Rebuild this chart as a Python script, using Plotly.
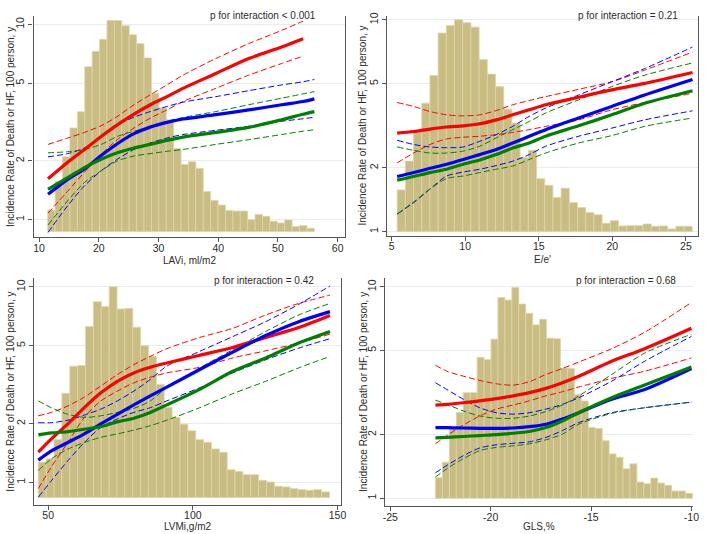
import plotly.graph_objects as go

# ======================= DATA =======================
# ---- Panel A : LAVi ----
lavi_bin_start = 11.45
lavi_bin_width = 1.24
lavi_hist = [0.65, 1.51, 2.26, 3.13, 3.62, 4.98, 5.45, 5.81, 6.38, 6.38, 6.22, 5.95,
             5.68, 5.25, 4.18, 3.74, 3.38, 2.51, 2.03, 2.11, 1.91, 1.21, 0.94, 0.80,
             0.64, 0.62, 0.62, 0.36, 0.52, 0.46, 0.31, 0.26, 0.35, 0.15, 0.18, 0.10]
lavi_x = [11.5, 14.8, 17.6, 20.4, 23.1, 25.9, 28.6, 31.4, 34.1, 39.6, 45.1, 50.6, 54.2, 56.1]
lavi_red = [1.62, 1.97, 2.29, 2.67, 3.06, 3.47, 3.88, 4.27, 4.71, 5.61, 6.69, 7.67, 8.46, None]
lavi_red_hi = [2.43, 2.62, 2.80, 3.03, 3.38, 3.88, 4.36, 4.90, 5.50, 6.69, 7.98, 9.32, 10.40, None]
lavi_red_lo = [1.08, 1.40, 1.75, 2.16, 2.57, 2.95, 3.31, 3.65, 4.03, 4.71, 5.50, 6.31, 6.88, None]
lavi_blue = [1.35, 1.61, 1.82, 2.13, 2.45, 2.76, 2.98, 3.15, 3.28, 3.45, 3.65, 3.88, 4.03, 4.16]
lavi_blue_hi = [2.10, 2.18, 2.33, 2.67, 3.06, 3.35, 3.58, 3.80, 4.00, 4.27, 4.58, 4.90, 5.09, 5.23]
lavi_blue_lo = [0.86, 1.18, 1.49, 1.78, 2.04, 2.29, 2.47, 2.62, 2.73, 2.87, 3.01, 3.19, 3.29, 3.35]
lavi_green = [1.43, 1.64, 1.85, 2.04, 2.20, 2.33, 2.43, 2.55, 2.65, 2.80, 2.97, 3.25, 3.47, 3.58]
lavi_green_hi = [2.20, 2.23, 2.29, 2.43, 2.67, 2.84, 2.98, 3.19, 3.34, 3.58, 3.88, 4.19, 4.41, 4.53]
lavi_green_lo = [0.94, 1.25, 1.55, 1.78, 2.00, 2.12, 2.18, 2.24, 2.29, 2.43, 2.57, 2.73, 2.84, 2.89]
lavi_xticks = [10, 20, 30, 40, 50, 60]

# ---- Panel B : E/e' ----
ee_bin_start = 5.38
ee_bin_width = 0.557
ee_hist = [1.26, 2.13, 3.00, 3.88, 4.72, 6.00, 6.23, 6.40, 6.31, 6.18, 5.20, 4.76,
           4.38, 3.70, 3.28, 2.23, 2.46, 1.60, 1.40, 1.03, 1.31, 0.88, 0.73, 0.58,
           0.51, 0.25, 0.33, 0.17, 0.18, 0.18, 0.23, 0.16, 0.17, 0.08, 0.16, 0.16]
ee_x = [5.38, 6.50, 7.62, 8.74, 9.87, 10.99, 12.11, 13.23, 14.35, 15.47, 17.71, 19.96, 22.20, 25.45]
ee_red = [2.92, 2.97, 3.05, 3.12, 3.16, 3.23, 3.37, 3.56, 3.76, 3.97, 4.31, 4.67, 5.01, 5.64]
ee_red_hi = [4.07, 3.90, 3.69, 3.56, 3.52, 3.56, 3.73, 3.97, 4.16, 4.34, 4.70, 5.10, 5.79, 7.05]
ee_red_lo = [2.11, 2.35, 2.58, 2.74, 2.79, 2.82, 2.87, 2.94, 3.03, 3.14, 3.37, 3.76, 4.07, 4.50]
ee_blue = [1.82, 1.90, 1.99, 2.08, 2.19, 2.31, 2.44, 2.62, 2.82, 3.03, 3.44, 3.90, 4.42, 5.23]
ee_blue_hi = [2.70, 2.58, 2.51, 2.49, 2.51, 2.67, 2.87, 3.14, 3.50, 3.83, 4.42, 5.10, 5.89, 7.44]
ee_blue_lo = [1.21, 1.37, 1.59, 1.83, 1.91, 1.97, 2.05, 2.15, 2.31, 2.53, 2.82, 3.08, 3.37, 3.72]
ee_green = [1.75, 1.82, 1.90, 1.97, 2.08, 2.18, 2.31, 2.48, 2.62, 2.82, 3.16, 3.56, 4.04, 4.63]
ee_green_hi = [2.51, 2.42, 2.35, 2.35, 2.40, 2.53, 2.77, 3.03, 3.31, 3.63, 4.19, 4.84, 5.48, 6.26]
ee_green_lo = [1.21, 1.38, 1.59, 1.78, 1.83, 1.90, 1.97, 2.04, 2.19, 2.35, 2.62, 2.84, 3.14, 3.44]
ee_xticks = [5, 10, 15, 20, 25]

# ---- Panel C : LVMi ----
lvmi_bin_start = 46.6
lvmi_bin_width = 2.72
lvmi_hist = [1.07, 1.17, 1.75, 3.15, 3.97, 3.99, 5.17, 5.92, 5.77, 6.37, 5.70, 5.72,
             5.15, 4.59, 4.27, 3.42, 2.72, 2.42, 2.22, 2.02, 1.75, 1.67, 1.47, 1.37,
             0.84, 0.79, 0.69, 0.69, 0.52, 0.47, 0.34, 0.32, 0.27, 0.24, 0.22, 0.24, 0.17]
lvmi_x = [46.6, 51.1, 56.8, 62.5, 68.2, 73.9, 79.6, 85.3, 91.0, 102.4, 113.8, 125.2, 136.6, 147.4]
lvmi_red = [1.43, 1.67, 1.99, 2.41, 2.87, 3.29, 3.63, 3.88, 4.08, 4.47, 4.90, 5.51, 6.19, 7.13]
lvmi_red_hi = [2.19, 2.28, 2.46, 2.73, 3.11, 3.56, 4.00, 4.41, 4.83, 5.51, 6.14, 7.18, 8.23, 9.07]
lvmi_red_lo = [0.93, 1.20, 1.60, 2.15, 2.61, 2.93, 3.23, 3.45, 3.63, 3.88, 4.33, 4.71, 5.16, 5.73]
lvmi_blue = [1.30, 1.45, 1.60, 1.77, 1.99, 2.23, 2.49, 2.77, 3.07, 3.78, 4.64, 5.64, 6.64, 7.47]
lvmi_blue_hi = [2.02, 2.02, 2.08, 2.21, 2.37, 2.61, 2.93, 3.36, 3.93, 4.68, 5.57, 6.64, 8.14, 10.1]
lvmi_blue_lo = [0.84, 1.02, 1.29, 1.60, 1.91, 2.11, 2.28, 2.41, 2.61, 3.05, 3.63, 4.24, 4.86, 5.43]
lvmi_green = [1.75, 1.79, 1.82, 1.87, 1.93, 2.04, 2.13, 2.28, 2.49, 2.99, 3.70, 4.33, 5.16, 5.91]
lvmi_green_hi = [2.61, 2.41, 2.23, 2.15, 2.19, 2.28, 2.39, 2.61, 3.05, 3.85, 4.77, 5.91, 7.18, 8.23]
lvmi_green_lo = [1.15, 1.32, 1.48, 1.60, 1.70, 1.77, 1.85, 1.95, 2.08, 2.41, 2.84, 3.29, 3.85, 4.41]
lvmi_xticks = [50, 100, 150]

# ---- Panel D : GLS ----
gls_bin_start = -22.75
gls_bin_width = 0.346
gls_hist = [0.62, 1.09, 2.14, 2.59, 3.19, 3.19, 4.26, 4.19, 4.81, 6.07, 5.99, 6.37,
            5.87, 5.59, 5.24, 5.41, 4.84, 4.82, 3.94, 3.92, 3.14, 2.94, 2.14, 2.11,
            1.74, 1.34, 1.24, 0.89, 1.04, 0.49, 0.44, 0.61, 0.46, 0.39, 0.22, 0.22, 0.15]
gls_x = [-22.75, -22.18, -21.36, -20.54, -19.72, -18.89, -18.07, -17.25, -16.43, -15.61, -13.97, -12.33, -10.0]
gls_red = [2.76, 2.78, 2.83, 2.89, 2.96, 3.05, 3.16, 3.31, 3.52, 3.78, 4.45, 5.10, 6.37]
gls_red_hi = [4.26, 3.99, 3.78, 3.61, 3.48, 3.43, 3.56, 3.85, 4.11, 4.41, 5.10, 6.10, 8.44]
gls_red_lo = [1.81, 1.98, 2.22, 2.45, 2.64, 2.76, 2.89, 3.05, 3.19, 3.36, 3.69, 3.99, 4.61]
gls_blue = [2.16, 2.16, 2.15, 2.14, 2.14, 2.15, 2.18, 2.24, 2.37, 2.54, 2.94, 3.27, 4.11]
gls_blue_hi = [3.52, 3.27, 2.94, 2.68, 2.54, 2.50, 2.54, 2.64, 2.78, 2.99, 3.58, 4.45, 5.83]
gls_blue_lo = [1.32, 1.43, 1.59, 1.73, 1.79, 1.82, 1.85, 1.94, 2.09, 2.28, 2.54, 2.68, 2.85]
gls_green = [1.93, 1.94, 1.96, 1.98, 2.00, 2.03, 2.07, 2.16, 2.32, 2.54, 2.99, 3.43, 4.18]
gls_green_hi = [2.91, 2.78, 2.59, 2.45, 2.39, 2.39, 2.45, 2.57, 2.76, 3.05, 3.85, 4.86, 5.97]
gls_green_lo = [1.26, 1.38, 1.54, 1.68, 1.74, 1.77, 1.81, 1.89, 2.01, 2.24, 2.52, 2.68, 2.85]
gls_xticks = [-25, -20, -15, -10]

ytick_vals = [1, 2, 5, 10]
y_title = "Incidence Rate of Death or HF, 100 person, y"
x_titles = ["LAVi, ml/m2", "E/e'", "LVMi,g/m2", "GLS,%"]
p_texts = ["p for interaction < 0.001", "p for interaction = 0.21",
           "p for interaction = 0.42", "p for interaction = 0.68"]

# ======================= LAYOUT GEOMETRY (pixels) =======================
W, H = 709, 534
geom = [
    dict(l=32.0, r=346.7, t=12, b=235.0, xr=[9.09, 61.19], lr=[-0.090, 1.044], base=229.3, rline=True,
         ytx=8.5, xty=258, ptx=264, pty=11.5),
    dict(l=389.3, r=704.0, t=12, b=233.3, xr=[4.684, 25.826], lr=[-0.0188, 1.0188], base=229.3, rline=True,
         ytx=365, xty=257, ptx=633, pty=11.5),
    dict(l=32.5, r=343.3, t=276, b=504.3, xr=[45.15, 151.37], lr=[-0.1132, 1.0457], base=497.3, rline=True,
         ytx=8.5, xty=526, ptx=265, pty=279),
    dict(l=387.3, r=699.0, t=276, b=506.0, xr=[-25.266, -9.916], lr=[-0.0376, 1.0423], base=498.0, rline=False,
         ytx=365, xty=526, ptx=631, pty=279),
]
HIST_PX_PER_UNIT = 100.0 / 3.0

RED, BLUE, GREEN = "#ff0000", "#0000ff", "#008000"
BAR_FILL, BAR_EDGE = "#c9bd83", "#ddd5ab"
AXIS_COL = "#555555"
TXT_COL = "#2b2b2b"
FONT = "Liberation Sans, Arial, sans-serif"

panels = [
    dict(hist=lavi_hist, b0=lavi_bin_start, bw=lavi_bin_width, x=lavi_x, xticks=lavi_xticks,
         curves=[(lavi_red, lavi_red_hi, lavi_red_lo, RED), (lavi_blue, lavi_blue_hi, lavi_blue_lo, BLUE),
                 (lavi_green, lavi_green_hi, lavi_green_lo, GREEN)]),
    dict(hist=ee_hist, b0=ee_bin_start, bw=ee_bin_width, x=ee_x, xticks=ee_xticks,
         curves=[(ee_red, ee_red_hi, ee_red_lo, RED), (ee_blue, ee_blue_hi, ee_blue_lo, BLUE),
                 (ee_green, ee_green_hi, ee_green_lo, GREEN)]),
    dict(hist=lvmi_hist, b0=lvmi_bin_start, bw=lvmi_bin_width, x=lvmi_x, xticks=lvmi_xticks,
         curves=[(lvmi_red, lvmi_red_hi, lvmi_red_lo, RED), (lvmi_blue, lvmi_blue_hi, lvmi_blue_lo, BLUE),
                 (lvmi_green, lvmi_green_hi, lvmi_green_lo, GREEN)]),
    dict(hist=gls_hist, b0=gls_bin_start, bw=gls_bin_width, x=gls_x, xticks=gls_xticks,
         curves=[(gls_red, gls_red_hi, gls_red_lo, RED), (gls_blue, gls_blue_hi, gls_blue_lo, BLUE),
                 (gls_green, gls_green_hi, gls_green_lo, GREEN)]),
]

fig = go.Figure()
layout = dict(width=W, height=H, margin=dict(l=0, r=0, t=0, b=0), paper_bgcolor="white",
              plot_bgcolor="rgba(0,0,0,0)", showlegend=False, font=dict(family=FONT, color=TXT_COL, size=10))
annotations = []

for i, (p, g) in enumerate(zip(panels, geom)):
    xa = "x" if i == 0 else f"x{i+1}"
    yh = "y" if i == 0 else f"y{2*i+1}"
    yl = f"y{2*i+2}"
    xa_name = "xaxis" if i == 0 else f"xaxis{i+1}"
    yh_name = "yaxis" if i == 0 else f"yaxis{2*i+1}"
    yl_name = f"yaxis{2*i+2}"

    xdom = [g["l"] / W, g["r"] / W]
    ydom = [1 - g["b"] / H, 1 - g["t"] / H]

    # histogram (background, linear density axis)
    centers = [p["b0"] + p["bw"] * (k + 0.5) for k in range(len(p["hist"]))]
    fig.add_trace(go.Bar(x=centers, y=p["hist"], width=p["bw"], xaxis=xa, yaxis=yh,
                         marker=dict(color=BAR_FILL, line=dict(color=BAR_EDGE, width=0.8)),
                         hoverinfo="skip"))
    # curves on log axis
    for (mid, hi, lo, col) in p["curves"]:
        for band in (hi, lo):
            fig.add_trace(go.Scatter(x=p["x"], y=band, mode="lines", xaxis=xa, yaxis=yl,
                                     line=dict(color=col, width=1, dash="6px,3px", shape="spline",
                                               smoothing=0.8)))
    for (mid, hi, lo, col) in p["curves"]:
        fig.add_trace(go.Scatter(x=p["x"], y=mid, mode="lines", xaxis=xa, yaxis=yl,
                                 line=dict(color=col, width=3.2, shape="spline", smoothing=0.8)))

    lo_h = -(g["b"] - g["base"]) / HIST_PX_PER_UNIT
    hi_h = (g["base"] - g["t"]) / HIST_PX_PER_UNIT

    layout[xa_name] = dict(domain=xdom, range=g["xr"], anchor=yh, tickvals=p["xticks"],
                           ticktext=[str(v) for v in p["xticks"]], ticks="outside", ticklen=4,
                           ticklabelstandoff=-3,
                           tickcolor=AXIS_COL, showline=True, linecolor=AXIS_COL, linewidth=1.3,
                           showgrid=False, zeroline=False, tickfont=dict(size=10.5, color=TXT_COL))
    layout[yh_name] = dict(domain=ydom, range=[lo_h, hi_h], anchor=xa, side="right",
                           showline=g["rline"], linecolor=AXIS_COL, linewidth=1.3, ticks="",
                           showticklabels=False, showgrid=False, zeroline=False)
    layout[yl_name] = dict(overlaying=yh, anchor=xa, side="left", type="log", range=g["lr"],
                           tickvals=ytick_vals, ticktext=[str(v) for v in ytick_vals], tickangle=-90,
                           ticks="outside", ticklen=4, tickcolor=AXIS_COL, showline=True,
                           linecolor=AXIS_COL, linewidth=1.3, showgrid=True, gridcolor="#e6edf2",
                           gridwidth=1, zeroline=False, tickfont=dict(size=10.5, color=TXT_COL))

    annotations.append(dict(x=g["ytx"] / W, y=1 - (g["t"] + g["b"]) / 2 / H, xref="paper", yref="paper",
                            text=y_title, textangle=-90, showarrow=False, xanchor="center",
                            yanchor="middle", font=dict(size=10, color=TXT_COL)))
    annotations.append(dict(x=(g["l"] + g["r"]) / 2 / W, y=1 - g["xty"] / H, xref="paper", yref="paper",
                            text=x_titles[i], showarrow=False, xanchor="center", yanchor="middle",
                            font=dict(size=10, color=TXT_COL)))
    annotations.append(dict(x=g["ptx"] / W, y=1 - g["pty"] / H, xref="paper", yref="paper",
                            text=p_texts[i], showarrow=False, xanchor="center", yanchor="middle",
                            font=dict(size=10, color=TXT_COL)))

layout["annotations"] = annotations
fig.update_layout(**layout)
fig.write_html("out.html", config={"displayModeBar": False},
               post_script="document.body.style.margin='0px';")
